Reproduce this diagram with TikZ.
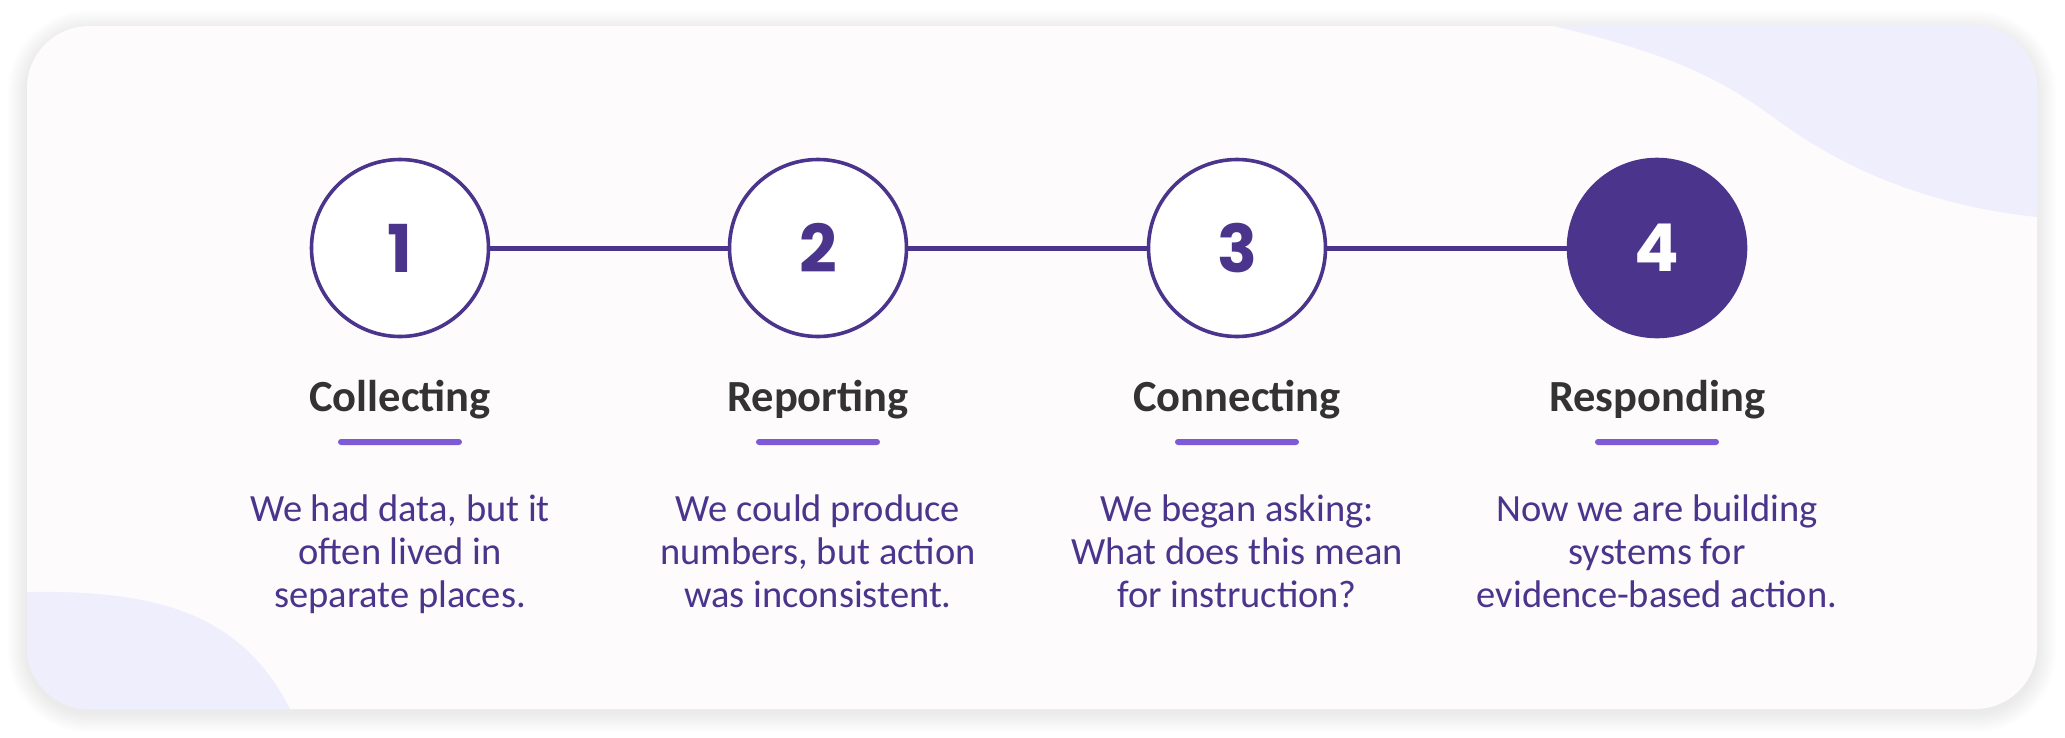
\documentclass[tikz,border=0pt]{standalone}
\usepackage{fontspec}
\setmainfont{Carlito}
\newfontfamily\numfont{Poppins}
\usetikzlibrary{positioning}

\definecolor{deeppurple}{HTML}{4B348C}
\definecolor{barpurple}{HTML}{7F5AD6}
\definecolor{headgray}{HTML}{333333}
\definecolor{cardbg}{HTML}{FDFBFC}
\definecolor{blobbg}{HTML}{EEEEFC}

\tikzset{
  stage/.style={circle, draw=deeppurple, line width=3.6pt, fill=white,
    minimum size=177pt, inner sep=0pt, text=deeppurple,
    font=\numfont\bfseries\fontsize{66}{66}\selectfont},
  stagenow/.style={stage, fill=deeppurple, text=white},
  link/.style={draw=deeppurple, line width=5pt},
  heading/.style={anchor=base, text=headgray,
    font=\bfseries\fontsize{44.5}{50}\selectfont},
  bar/.style={fill=barpurple, rounded corners=3pt, minimum width=124pt,
    minimum height=6pt, inner sep=0pt},
  % base of a multi-line node is the baseline of its last line
  blurb/.style={anchor=base, align=center, text=deeppurple,
    font=\fontsize{38.5}{43}\selectfont},
}

\begin{document}
\begin{tikzpicture}[x=1pt, y=-1pt]
  \useasboundingbox (0,0) rectangle (2065,737);
  \fill[white] (0,0) rectangle (2065,737);

  % soft shadow under the card
  \foreach \i in {1,...,20}
    \fill[black, opacity=0.004, rounded corners=62+\i]
      (27-\i,30-\i) rectangle (2037+\i,713+\i);

  % card and corner blobs
  \fill[cardbg, rounded corners=62] (27,26) rectangle (2037,709);
  \begin{scope}
    \clip[rounded corners=62] (27,26) rectangle (2037,709);
    \fill[blobbg] (1553,26) .. controls (1680,55) and (1730,85) .. (1780,122)
      .. controls (1860,180) and (1950,208) .. (2037,217) -- (2040,20) -- cycle;
    \fill[blobbg] (27,592) .. controls (150,590) and (240,610) .. (290,709)
      -- (20,715) -- cycle;
  \end{scope}

  % the four stages
  \node[stage] (s1) at (400,248) {1};
  \node[stage] (s2) at (818,248) {2};
  \node[stage] (s3) at (1237,248) {3};
  \node[stagenow] (s4) at (1657,248) {4};

  \draw[link] (s1) -- (s2);
  \draw[link] (s2) -- (s3);
  \draw[link] (s3) -- (s4);

  \node[heading] (t1) at (400,411) {Collecting};
  \node[heading] (t2) at (818,411) {Reporting};
  \node[heading] (t3) at (1237,411) {Connecting};
  \node[heading] (t4) at (1657,411) {Responding};

  \node[bar] (b1) at (400,442) {};
  \node[bar] (b2) at (818,442) {};
  \node[bar] (b3) at (1237,442) {};
  \node[bar] (b4) at (1657,442) {};

  \node[blurb] (d1) at (400,607) {We had data, but it\\often lived in\\separate places.};
  \node[blurb] (d2) at (818,607) {We could produce\\numbers, but action\\was inconsistent.};
  \node[blurb] (d3) at (1237,607) {We began asking:\\What does this mean\\for instruction?};
  \node[blurb] (d4) at (1657,607) {Now we are building\\systems for\\evidence-based action.};
\end{tikzpicture}
\end{document}
